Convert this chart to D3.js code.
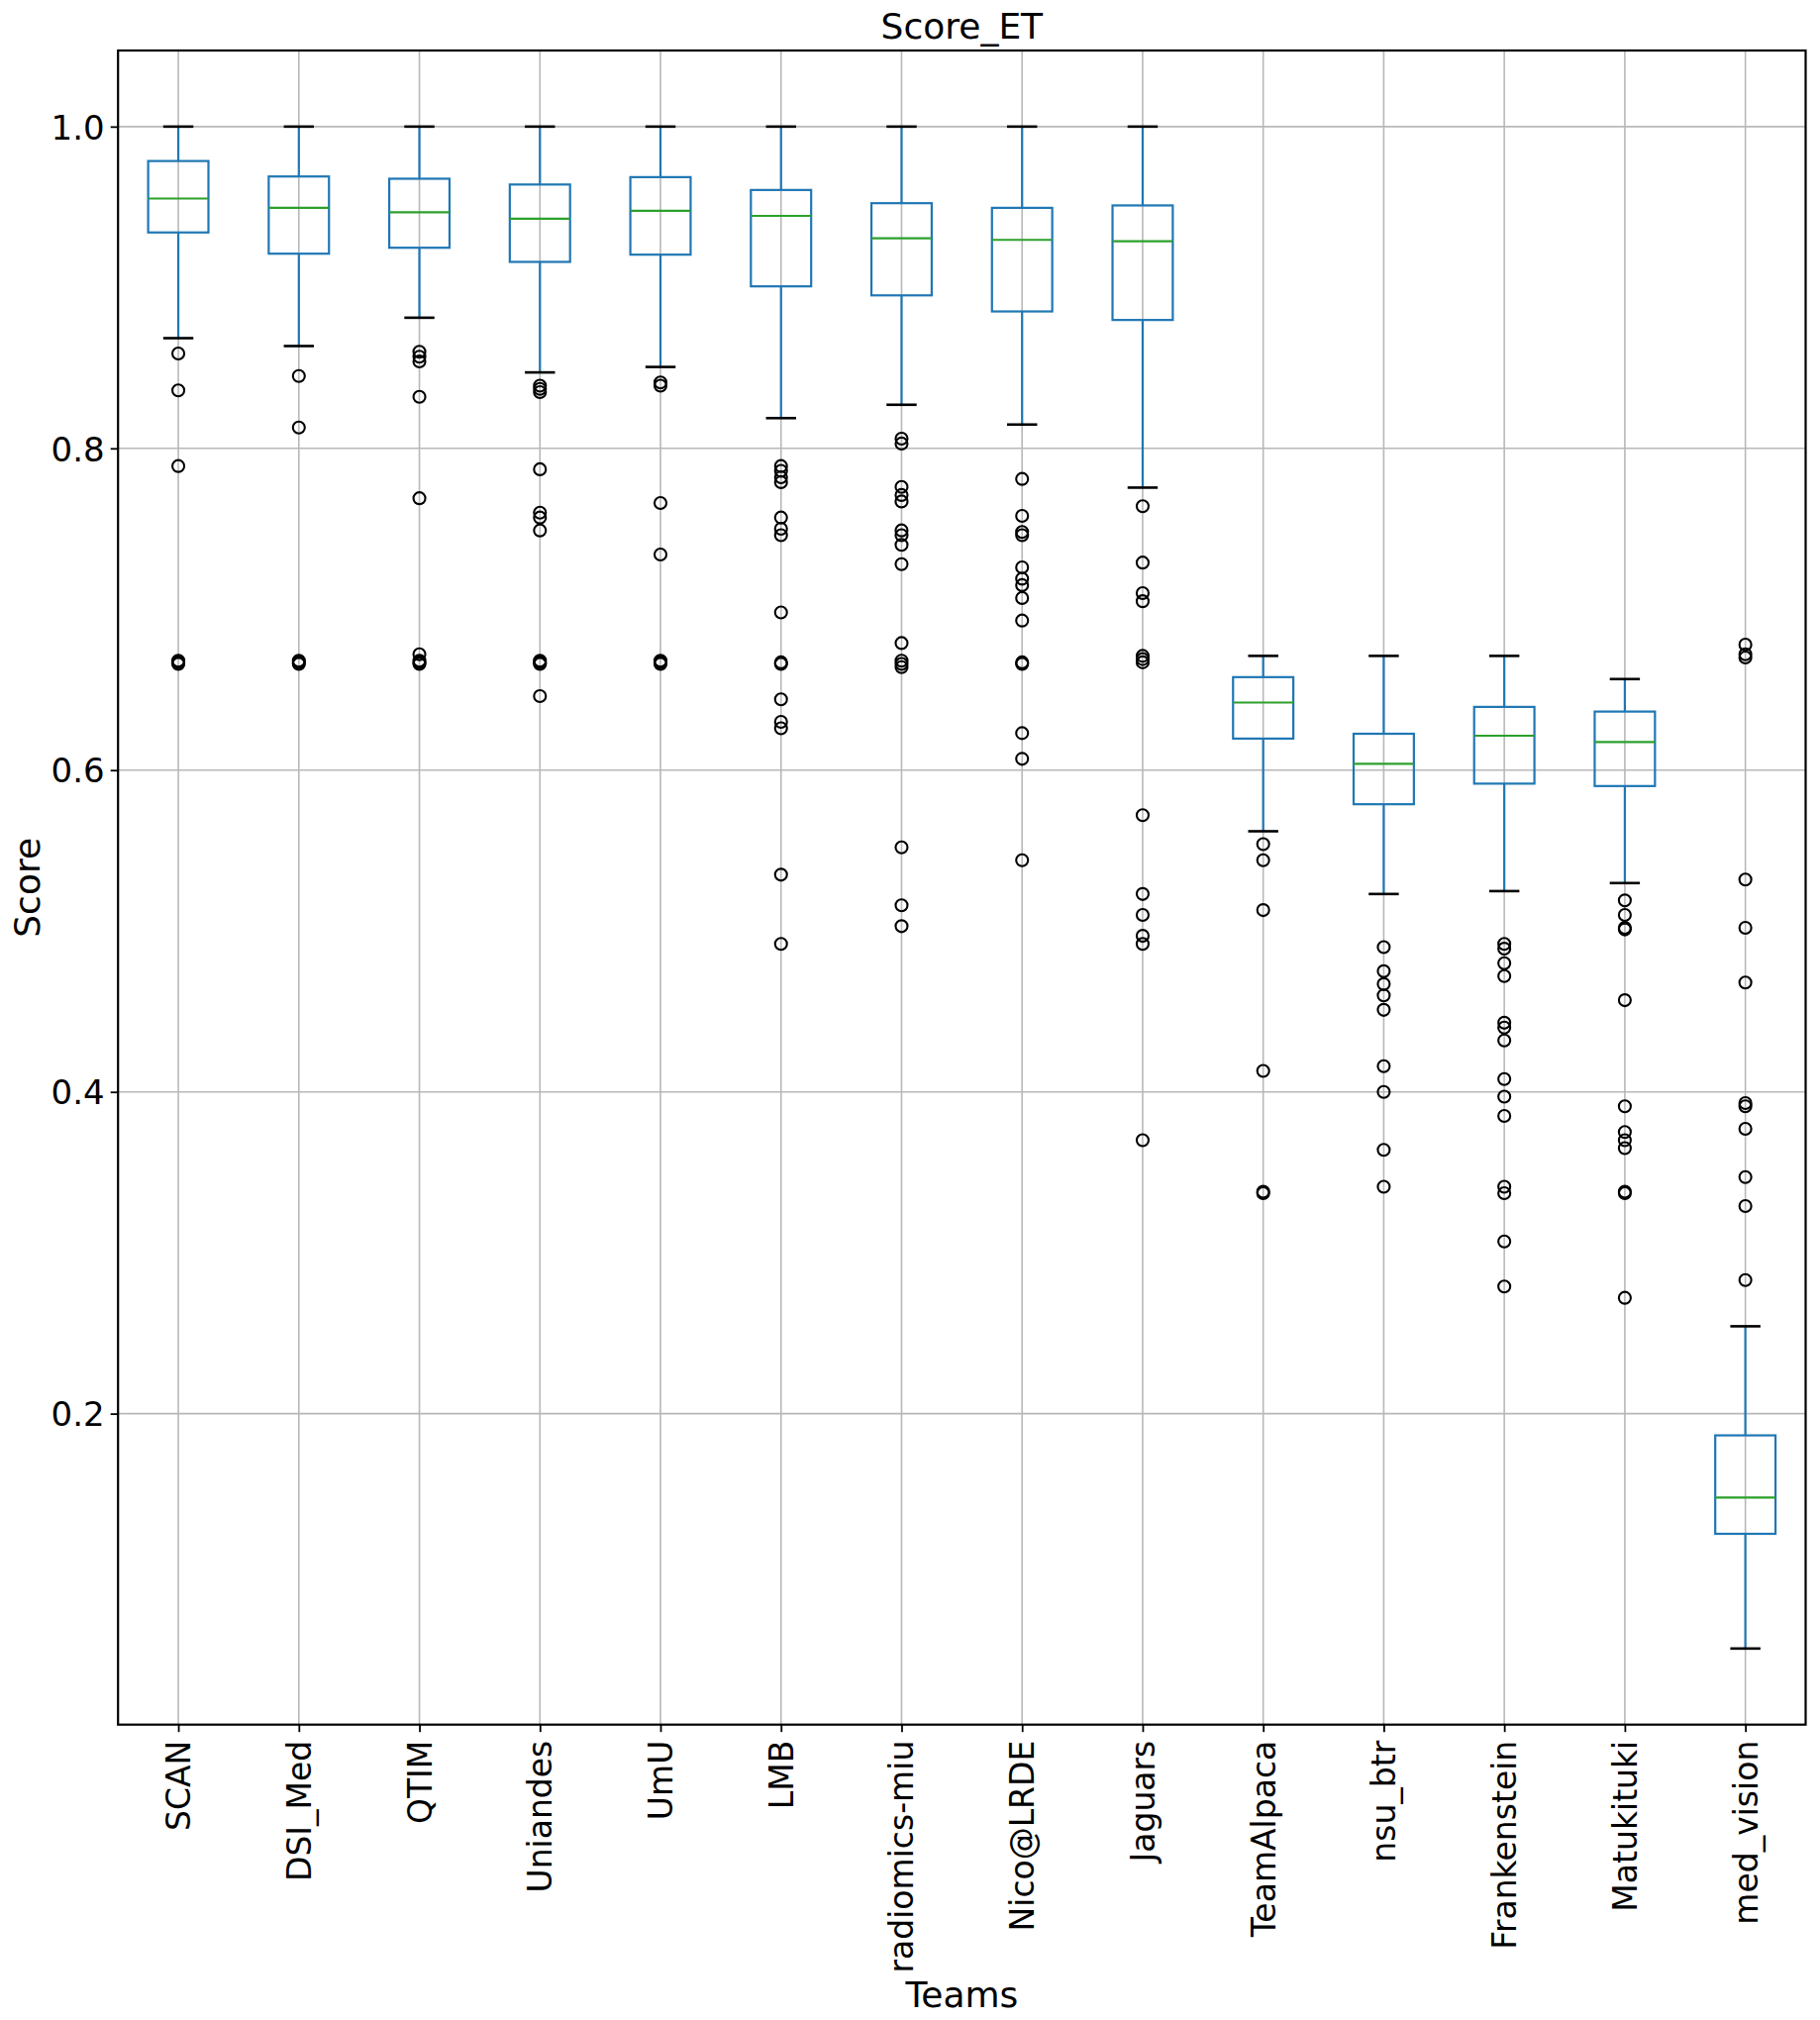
<!DOCTYPE html>
<html>
<head>
<meta charset="utf-8">
<script src="https://cdn.jsdelivr.net/npm/d3@7"></script>
<style>
  body { margin: 0; background: #fff; }
  text { font-family: "DejaVu Sans", sans-serif; fill: #000; }
</style>
</head>
<body>
<div id="chart"></div>
<script>
// teams in plot order
let teams = ["SCAN", "DSI_Med", "QTIM", "Uniandes", "UmU", "LMB", "radiomics-miu", "Nico@LRDE",
    "Jaguars", "TeamAlpaca", "nsu_btr", "Frankenstein", "Matukituki", "med_vision"];

// box stats
let whiskerLow  = [0.8685, 0.8636, 0.8812, 0.8472, 0.8506, 0.8188, 0.8271, 0.8148, 0.7756, 0.562, 0.523, 0.5248, 0.5298, 0.054];
let q1          = [0.9342, 0.921, 0.9247, 0.9159, 0.9204, 0.9007, 0.8951, 0.8851, 0.8798, 0.6196, 0.5788, 0.5916, 0.5901, 0.1253];
let medians     = [0.9553, 0.9495, 0.9468, 0.9428, 0.9477, 0.9445, 0.9306, 0.9296, 0.9288, 0.642, 0.6039, 0.6214, 0.6175, 0.1479];
let q3          = [0.9786, 0.969, 0.9676, 0.964, 0.9686, 0.9606, 0.9524, 0.9495, 0.951, 0.6578, 0.6226, 0.6393, 0.6364, 0.1865];
let whiskerHigh = [1, 1, 1, 1, 1, 1, 1, 1, 1, 0.671, 0.671, 0.671, 0.6566, 0.2543];

// fliers per team
let outliers = [
    [0.859, 0.836, 0.789, 0.668, 0.667, 0.666],
    [0.845, 0.813, 0.668, 0.667, 0.666],
    [0.860, 0.857, 0.854, 0.832, 0.769, 0.672, 0.668, 0.667, 0.666],
    [0.839, 0.837, 0.835, 0.787, 0.760, 0.757, 0.749, 0.668, 0.667, 0.666, 0.646],
    [0.841, 0.839, 0.766, 0.734, 0.668, 0.667, 0.666],
    [0.789, 0.786, 0.782, 0.779, 0.757, 0.750, 0.746, 0.698, 0.667, 0.666, 0.644, 0.630, 0.626, 0.535, 0.492],
    [0.806, 0.803, 0.776, 0.771, 0.767, 0.749, 0.746, 0.740, 0.728, 0.679, 0.668, 0.666, 0.664, 0.552, 0.516, 0.503],
    [0.781, 0.758, 0.748, 0.746, 0.726, 0.719, 0.715, 0.707, 0.693, 0.667, 0.666, 0.623, 0.607, 0.544],
    [0.764, 0.729, 0.710, 0.705, 0.671, 0.669, 0.667, 0.572, 0.523, 0.510, 0.497, 0.492, 0.370],
    [0.554, 0.544, 0.513, 0.413, 0.338, 0.337],
    [0.490, 0.475, 0.467, 0.460, 0.451, 0.416, 0.400, 0.364, 0.341],
    [0.492, 0.489, 0.480, 0.472, 0.443, 0.440, 0.432, 0.408, 0.397, 0.385, 0.341, 0.337, 0.307, 0.279],
    [0.519, 0.510, 0.502, 0.501, 0.457, 0.391, 0.375, 0.370, 0.365, 0.338, 0.337, 0.272],
    [0.678, 0.672, 0.670, 0.532, 0.502, 0.468, 0.393, 0.391, 0.377, 0.347, 0.329, 0.283]
];

let yTicks = [0.2, 0.4, 0.6, 0.8, 1.0];

let width = 1838, height = 2040;
let margin = {top: 51, right: 14.5, bottom: 298.3, left: 119.2};
let innerW = width - margin.left - margin.right;
let innerH = height - margin.top - margin.bottom;

let svg = d3.select("#chart").append("svg")
    .attr("width", width)
    .attr("height", height);

let g = svg.append("g")
    .attr("transform", `translate(${margin.left},${margin.top})`);

// x: one slot per team, like matplotlib positions 1..n with 0.5 padding
let x = d3.scalePoint().domain(teams).range([0, innerW]).padding(0.5);
let step = x.step();

// y: data range with 5% margins
let allVals = whiskerLow.concat(whiskerHigh, outliers.flat());
let yMin = d3.min(allVals), yMax = d3.max(allVals);
let pad = (yMax - yMin) * 0.05;
let y = d3.scaleLinear().domain([yMin - pad, yMax + pad]).range([innerH, 0]);

// grid
g.append("g").selectAll("line.hgrid")
    .data(yTicks).enter().append("line")
    .attr("x1", 0).attr("x2", innerW)
    .attr("y1", d => y(d)).attr("y2", d => y(d))
    .style("stroke", "#b8b8b8").style("stroke-width", 1.6);
g.append("g").selectAll("line.vgrid")
    .data(teams).enter().append("line")
    .attr("x1", d => x(d)).attr("x2", d => x(d))
    .attr("y1", 0).attr("y2", innerH)
    .style("stroke", "#b8b8b8").style("stroke-width", 1.6);

// boxes
let boxW = step * 0.5, capW = step * 0.25;
let rows = teams.map((t, i) => ({team: t, lo: whiskerLow[i], q1: q1[i], med: medians[i], q3: q3[i], hi: whiskerHigh[i], out: outliers[i]}));

let box = g.selectAll(".box").data(rows).enter().append("g").attr("class", "box");

box.append("line") // lower whisker
    .attr("x1", d => x(d.team)).attr("x2", d => x(d.team))
    .attr("y1", d => y(d.q1)).attr("y2", d => y(d.lo))
    .style("stroke", "#1f77b4").style("stroke-width", 2.2);
box.append("line") // upper whisker
    .attr("x1", d => x(d.team)).attr("x2", d => x(d.team))
    .attr("y1", d => y(d.q3)).attr("y2", d => y(d.hi))
    .style("stroke", "#1f77b4").style("stroke-width", 2.2);

box.append("rect")
    .attr("x", d => x(d.team) - boxW / 2)
    .attr("y", d => y(d.q3))
    .attr("width", boxW)
    .attr("height", d => y(d.q1) - y(d.q3))
    .style("fill", "none").style("stroke", "#1f77b4").style("stroke-width", 2.2);

box.append("line") // median
    .attr("x1", d => x(d.team) - boxW / 2).attr("x2", d => x(d.team) + boxW / 2)
    .attr("y1", d => y(d.med)).attr("y2", d => y(d.med))
    .style("stroke", "#2ca02c").style("stroke-width", 2.2);

["lo", "hi"].forEach(k => {
    box.append("line") // caps
        .attr("x1", d => x(d.team) - capW / 2).attr("x2", d => x(d.team) + capW / 2)
        .attr("y1", d => y(d[k])).attr("y2", d => y(d[k]))
        .style("stroke", "#000").style("stroke-width", 2.6);
});

box.selectAll("circle")
    .data(d => d.out.map(v => ({team: d.team, v: v})))
    .enter().append("circle")
    .attr("cx", d => x(d.team))
    .attr("cy", d => y(d.v))
    .attr("r", 6)
    .style("fill", "none").style("stroke", "#000").style("stroke-width", 2.1);

// axes
let yAxis = g.append("g")
    .call(d3.axisLeft(y).tickValues(yTicks).tickFormat(d3.format(".1f")).tickSize(7.5).tickPadding(6));
yAxis.select(".domain").remove();
yAxis.selectAll("text").style("font-size", "34px").attr("dy", "0.36em");
yAxis.selectAll("line").style("stroke-width", 1.8);

let xAxis = g.append("g")
    .attr("transform", `translate(0,${innerH})`)
    .call(d3.axisBottom(x).tickSize(7.5));
xAxis.select(".domain").remove();
xAxis.selectAll("line").style("stroke-width", 1.8);
xAxis.selectAll("text")
    .style("font-size", "33px")
    .attr("text-anchor", "end")
    .attr("transform", "rotate(-90)")
    .attr("x", -16)
    .attr("y", 11.5)
    .attr("dy", 0);

// frame
g.append("rect")
    .attr("width", innerW).attr("height", innerH)
    .style("fill", "none").style("stroke", "#000").style("stroke-width", 2.2);

// titles
svg.append("text")
    .attr("x", margin.left + innerW / 2).attr("y", 39)
    .attr("text-anchor", "middle")
    .style("font-size", "36px")
    .text("Score_ET");

svg.append("text")
    .attr("x", margin.left + innerW / 2).attr("y", 2026.5)
    .attr("text-anchor", "middle")
    .style("font-size", "36px")
    .text("Teams");

svg.append("text")
    .attr("transform", `translate(40,${margin.top + innerH / 2}) rotate(-90)`)
    .attr("text-anchor", "middle")
    .style("font-size", "36px")
    .text("Score");
</script>
</body>
</html>
